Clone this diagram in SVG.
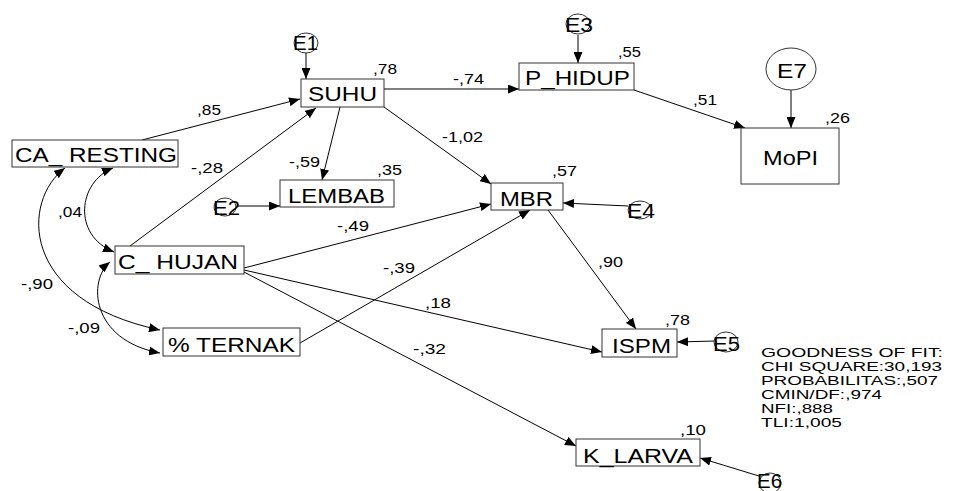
<svg xmlns="http://www.w3.org/2000/svg" width="954" height="491" viewBox="0 0 954 491">
<style>
text { font-family: "Liberation Sans", Arial, sans-serif; fill: #000; }
.box { fill: #fff; stroke: #333; stroke-width: 1; }
.err { fill: #fff; stroke: #333; stroke-width: 1; }
.lbl { font-size: 19.5px; }
.el { font-size: 19.5px; }
.val { font-size: 15.5px; }
.gof { font-size: 12.5px; }
.c { fill: none; stroke: #000; stroke-width: 1; marker-end: url(#ah); }
.cv { fill: none; stroke: #000; stroke-width: 1; marker-start: url(#ah2); marker-end: url(#ah2); }
</style>
<defs>
<marker id="ah" markerUnits="userSpaceOnUse" markerWidth="11" markerHeight="9" viewBox="0 0 11 9" refX="11" refY="4.5" orient="auto"><path d="M0,0 L11,4.5 L0,9 z" fill="#000"/></marker>
<marker id="ah2" markerUnits="userSpaceOnUse" markerWidth="11" markerHeight="9" viewBox="0 0 11 9" refX="11" refY="4.5" orient="auto-start-reverse"><path d="M0,0 L11,4.5 L0,9 z" fill="#000"/></marker>
</defs>
<rect width="954" height="491" fill="#fff"/>
<g id="connectors">
<line class="c" x1="306" y1="53" x2="306" y2="79"/>
<line class="c" x1="578" y1="35" x2="578" y2="63"/>
<line class="c" x1="791" y1="90" x2="791" y2="128"/>
<line class="c" x1="237" y1="206" x2="280" y2="206"/>
<line class="c" x1="628" y1="206" x2="563" y2="203"/>
<line class="c" x1="715" y1="341" x2="677" y2="342"/>
<line class="c" x1="759" y1="476" x2="700" y2="458"/>
<line class="c" x1="384" y1="89" x2="519" y2="89"/>
<line class="c" x1="634" y1="90" x2="745" y2="128"/>
<line class="c" x1="142" y1="140" x2="300" y2="99"/>
<line class="c" x1="130" y1="246" x2="316" y2="108"/>
<line class="c" x1="340" y1="107" x2="322" y2="180"/>
<line class="c" x1="384" y1="107" x2="491" y2="184"/>
<line class="c" x1="244" y1="268" x2="491" y2="204"/>
<line class="c" x1="300" y1="343" x2="530" y2="210"/>
<line class="c" x1="548" y1="210" x2="636" y2="329"/>
<line class="c" x1="244" y1="270" x2="602" y2="352"/>
<line class="c" x1="244" y1="272" x2="576" y2="446"/>
<path class="cv" d="M113,168 C78,182 72,235 114,252"/>
<path class="cv" d="M65,168 C22,200 18,300 160,330"/>
<path class="cv" d="M110,262 C88,280 90,340 160,353"/>
<text class="val" x="453" y="84" textLength="31" lengthAdjust="spacingAndGlyphs">-,74</text>
<text class="val" x="442" y="142" textLength="41" lengthAdjust="spacingAndGlyphs">-1,02</text>
<text class="val" x="693" y="105" textLength="24" lengthAdjust="spacingAndGlyphs">,51</text>
<text class="val" x="197" y="115" textLength="24" lengthAdjust="spacingAndGlyphs">,85</text>
<text class="val" x="191" y="173" textLength="32" lengthAdjust="spacingAndGlyphs">-,28</text>
<text class="val" x="289" y="167" textLength="31" lengthAdjust="spacingAndGlyphs">-,59</text>
<text class="val" x="337" y="231" textLength="32" lengthAdjust="spacingAndGlyphs">-,49</text>
<text class="val" x="383" y="273" textLength="32" lengthAdjust="spacingAndGlyphs">-,39</text>
<text class="val" x="425" y="308" textLength="26" lengthAdjust="spacingAndGlyphs">,18</text>
<text class="val" x="598" y="267" textLength="25" lengthAdjust="spacingAndGlyphs">,90</text>
<text class="val" x="413" y="354" textLength="33" lengthAdjust="spacingAndGlyphs">-,32</text>
<text class="val" x="58" y="217" textLength="24" lengthAdjust="spacingAndGlyphs">,04</text>
<text class="val" x="21" y="289" textLength="32" lengthAdjust="spacingAndGlyphs">-,90</text>
<text class="val" x="68" y="333" textLength="32" lengthAdjust="spacingAndGlyphs">-,09</text>
</g>
<g id="SUHU"><rect class="box" x="301" y="79" width="83" height="28"/><text class="lbl" x="308" y="101" textLength="69" lengthAdjust="spacingAndGlyphs">SUHU</text><text class="val" x="373" y="74" textLength="24" lengthAdjust="spacingAndGlyphs">,78</text></g>
<g id="P_HIDUP"><rect class="box" x="519" y="63" width="115" height="27"/><text class="lbl" x="525" y="85" textLength="105" lengthAdjust="spacingAndGlyphs">P_HIDUP</text><text class="val" x="618" y="57" textLength="23" lengthAdjust="spacingAndGlyphs">,55</text></g>
<g id="MoPI"><rect class="box" x="741" y="128" width="98" height="56"/><text class="lbl" x="763" y="165" textLength="55" lengthAdjust="spacingAndGlyphs">MoPI</text><text class="val" x="825" y="123" textLength="25" lengthAdjust="spacingAndGlyphs">,26</text></g>
<g id="CA_RESTING"><rect class="box" x="12" y="140" width="166" height="27"/><text class="lbl" x="15" y="162" textLength="162" lengthAdjust="spacingAndGlyphs">CA_ RESTING</text></g>
<g id="C_HUJAN"><rect class="box" x="115" y="246" width="129" height="28"/><text class="lbl" x="118" y="269" textLength="120" lengthAdjust="spacingAndGlyphs">C_ HUJAN</text></g>
<g id="LEMBAB"><rect class="box" x="280" y="180" width="114" height="27"/><text class="lbl" x="288" y="203" textLength="97" lengthAdjust="spacingAndGlyphs">LEMBAB</text><text class="val" x="377" y="175" textLength="25" lengthAdjust="spacingAndGlyphs">,35</text></g>
<g id="MBR"><rect class="box" x="491" y="183" width="72" height="27"/><text class="lbl" x="500" y="206" textLength="53" lengthAdjust="spacingAndGlyphs">MBR</text><text class="val" x="552" y="176" textLength="25" lengthAdjust="spacingAndGlyphs">,57</text></g>
<g id="TERNAK"><rect class="box" x="163" y="328" width="137" height="28"/><text class="lbl" x="168" y="352" textLength="127" lengthAdjust="spacingAndGlyphs">% TERNAK</text></g>
<g id="ISPM"><rect class="box" x="602" y="329" width="75" height="28"/><text class="lbl" x="612" y="353" textLength="59" lengthAdjust="spacingAndGlyphs">ISPM</text><text class="val" x="665" y="325" textLength="25" lengthAdjust="spacingAndGlyphs">,78</text></g>
<g id="K_LARVA"><rect class="box" x="576" y="439" width="124" height="27"/><text class="lbl" x="583" y="463" textLength="110" lengthAdjust="spacingAndGlyphs">K_LARVA</text><text class="val" x="680" y="435" textLength="26" lengthAdjust="spacingAndGlyphs">,10</text></g>
<g id="E1"><ellipse class="err" cx="306" cy="43" rx="12" ry="10"/><text class="el" x="293" y="50" textLength="25" lengthAdjust="spacingAndGlyphs">E1</text></g>
<g id="E3"><ellipse class="err" cx="578" cy="24" rx="12" ry="10"/><text class="el" x="565" y="32" textLength="28" lengthAdjust="spacingAndGlyphs">E3</text></g>
<g id="E7"><ellipse class="err" cx="791" cy="69" rx="25" ry="21"/><text class="el" x="777" y="78" textLength="30" lengthAdjust="spacingAndGlyphs">E7</text></g>
<g id="E2"><ellipse class="err" cx="225" cy="207" rx="11" ry="9"/><text class="el" x="213" y="215" textLength="27" lengthAdjust="spacingAndGlyphs">E2</text></g>
<g id="E4"><ellipse class="err" cx="640" cy="210" rx="12" ry="9"/><text class="el" x="627" y="218" textLength="28" lengthAdjust="spacingAndGlyphs">E4</text></g>
<g id="E5"><ellipse class="err" cx="726" cy="342" rx="12" ry="10"/><text class="el" x="713" y="351" textLength="27" lengthAdjust="spacingAndGlyphs">E5</text></g>
<g id="E6"><ellipse class="err" cx="770" cy="483" rx="11" ry="10"/><text class="el" x="757" y="488" textLength="25" lengthAdjust="spacingAndGlyphs">E6</text></g>
<g id="goodness_of_fit">
<text class="gof" x="761" y="357" textLength="182" lengthAdjust="spacingAndGlyphs">GOODNESS OF FIT:</text>
<text class="gof" x="761" y="371" textLength="181" lengthAdjust="spacingAndGlyphs">CHI SQUARE:30,193</text>
<text class="gof" x="761" y="385" textLength="177" lengthAdjust="spacingAndGlyphs">PROBABILITAS:,507</text>
<text class="gof" x="761" y="399" textLength="121" lengthAdjust="spacingAndGlyphs">CMIN/DF:,974</text>
<text class="gof" x="761" y="413" textLength="72" lengthAdjust="spacingAndGlyphs">NFI:,888</text>
<text class="gof" x="761" y="427" textLength="81" lengthAdjust="spacingAndGlyphs">TLI:1,005</text>
</g>
</svg>
